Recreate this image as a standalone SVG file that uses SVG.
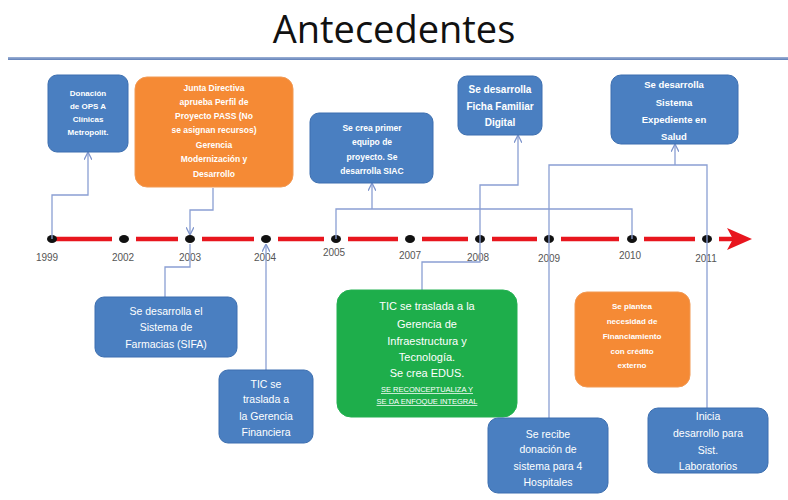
<svg xmlns="http://www.w3.org/2000/svg" width="788" height="500" viewBox="0 0 788 500">
<defs>
<linearGradient id="rule" x1="0" y1="0" x2="0" y2="1">
<stop offset="0" stop-color="#9fb3d6"/><stop offset="1" stop-color="#5f7fb8"/>
</linearGradient>
<marker id="ah" viewBox="0 0 8 8" refX="7" refY="4" markerWidth="6" markerHeight="6" orient="auto-start-reverse">
<path d="M0,0 L8,4 L0,8" fill="none" stroke="#7f95cc" stroke-width="1.3"/>
</marker>
</defs>
<style>
.t{font-family:"Liberation Sans",Arial,sans-serif;fill:#fff;text-anchor:middle}
.b{font-weight:bold}
.blue{fill:#4a7fc1;stroke:#3d6fb0;stroke-width:1}
.orange{fill:#f58a35;stroke:#f29a55;stroke-width:1}
.green{fill:#1eae4b;stroke:#22b050;stroke-width:1}
.c{fill:none;stroke:#8a9fd3;stroke-width:1.3}
.yr{font-family:"Liberation Sans",Arial,sans-serif;font-size:10px;fill:#555;text-anchor:middle}
.dot{fill:#111}
.red{stroke:#e8161e;stroke-width:4.5;fill:none}
</style>
<rect width="788" height="500" fill="#fff"/>
<text x="394" y="43" font-family="'Open Sans','Noto Sans',sans-serif" font-size="38" fill="#111" text-anchor="middle">Antecedentes</text>
<rect x="8" y="57" width="780" height="3" fill="url(#rule)"/>

<g id="timeline">
<path class="red" d="M52,239 H112 M136,239 H178 M202,239 H254 M278,239 H324 M348,239 H398 M422,239 H468 M492,239 H537 M561,239 H619 M644,239 H695 M719,239 H738"/>
<path d="M727,228 L752,239 L727,250 L733,239 Z" fill="#e8161e"/>
<ellipse class="dot" cx="52" cy="239" rx="5" ry="4"/>
<ellipse class="dot" cx="124" cy="239" rx="5" ry="4"/>
<ellipse class="dot" cx="190" cy="239" rx="5" ry="4"/>
<ellipse class="dot" cx="266" cy="239" rx="5" ry="4"/>
<ellipse class="dot" cx="336" cy="239" rx="5" ry="4"/>
<ellipse class="dot" cx="410" cy="239" rx="5" ry="4"/>
<ellipse class="dot" cx="480" cy="239" rx="5" ry="4"/>
<ellipse class="dot" cx="549" cy="239" rx="5" ry="4"/>
<ellipse class="dot" cx="632" cy="239" rx="5" ry="4"/>
<ellipse class="dot" cx="707" cy="239" rx="5" ry="4"/>
<text class="yr" x="47" y="261">1999</text>
<text class="yr" x="123" y="261">2002</text>
<text class="yr" x="190" y="261">2003</text>
<text class="yr" x="265" y="261">2004</text>
<text class="yr" x="334" y="256">2005</text>
<text class="yr" x="410" y="259">2007</text>
<text class="yr" x="478" y="261">2008</text>
<text class="yr" x="549" y="262">2009</text>
<text class="yr" x="630" y="259">2010</text>
<text class="yr" x="706" y="262">2011</text>
</g>

<g id="connectors">
<path class="c" d="M52,239 V195 H88 V153" marker-end="url(#ah)"/>
<path class="c" d="M213,188 V210 H190 V234" marker-end="url(#ah)"/>
<path class="c" d="M190,244 V267 H165 V297"/>
<path class="c" d="M266,370 V245" marker-end="url(#ah)"/>
<path class="c" d="M336,239 V209 H632 V239 M372,209 V184" marker-end="url(#ah)"/>
<path class="c" d="M480,239 V185 H518 V136" marker-end="url(#ah)"/>
<path class="c" d="M480,239 V262 H422 V290"/>
<path class="c" d="M549,418 V165 H707 V408 M675,165 V145" marker-end="url(#ah)"/>
</g>

<g id="n1">
<rect class="blue" x="48" y="75" width="80" height="77" rx="9"/>
<text class="t b" font-size="8"><tspan x="88" y="96">Donación</tspan><tspan x="88" y="109">de OPS A</tspan><tspan x="88" y="122">Clínicas</tspan><tspan x="88" y="135">Metropolit.</tspan></text>
</g>
<g id="n2">
<rect class="orange" x="135" y="77" width="158" height="110" rx="12"/>
<text class="t b" font-size="8.5"><tspan x="214" y="91">Junta Directiva</tspan><tspan x="214" y="105">aprueba Perfil de</tspan><tspan x="214" y="119">Proyecto PASS  (No</tspan><tspan x="214" y="133">se asignan recursos)</tspan><tspan x="214" y="148">Gerencia</tspan><tspan x="214" y="162">Modernización y</tspan><tspan x="214" y="177">Desarrollo</tspan></text>
</g>
<g id="n3">
<rect class="blue" x="310" y="113" width="123" height="70" rx="9"/>
<text class="t b" font-size="8.5"><tspan x="372" y="131">Se crea primer</tspan><tspan x="372" y="145">equipo de</tspan><tspan x="372" y="160">proyecto. Se</tspan><tspan x="372" y="174">desarrolla SIAC</tspan></text>
</g>
<g id="n4">
<rect class="blue" x="458" y="76" width="84" height="59" rx="9"/>
<text class="t b" font-size="10"><tspan x="500" y="93">Se desarrolla</tspan><tspan x="500" y="110">Ficha Familiar</tspan><tspan x="500" y="126">Digital</tspan></text>
</g>
<g id="n5">
<rect class="blue" x="611" y="75" width="127" height="69" rx="10"/>
<text class="t b" font-size="9.5"><tspan x="674" y="88">Se desarrolla</tspan><tspan x="674" y="106">Sistema</tspan><tspan x="674" y="123">Expediente en</tspan><tspan x="674" y="140">Salud</tspan></text>
</g>
<g id="n6">
<rect class="blue" x="95" y="297" width="142" height="60" rx="9"/>
<text class="t" font-size="10.5"><tspan x="166" y="315">Se desarrolla el</tspan><tspan x="166" y="331">Sistema de</tspan><tspan x="166" y="348">Farmacias (SIFA)</tspan></text>
</g>
<g id="n7">
<rect class="blue" x="219" y="370" width="94" height="73" rx="9"/>
<text class="t" font-size="10.5"><tspan x="266" y="388">TIC se</tspan><tspan x="266" y="403">traslada a</tspan><tspan x="266" y="420">la Gerencia</tspan><tspan x="266" y="436">Financiera</tspan></text>
</g>
<g id="n8">
<rect class="green" x="337" y="290" width="180" height="127" rx="14"/>
<text class="t" font-size="11"><tspan x="427" y="310">TIC se traslada  a la</tspan><tspan x="427" y="328">Gerencia  de</tspan><tspan x="427" y="345">Infraestructura y</tspan><tspan x="427" y="361">Tecnología.</tspan><tspan x="427" y="377">Se crea  EDUS.</tspan></text>
<text class="t" font-size="7.5" text-decoration="underline"><tspan x="427" y="392">SE RECONCEPTUALIZA Y</tspan><tspan x="427" y="404">SE DA ENFOQUE INTEGRAL</tspan></text>
</g>
<g id="n9">
<rect class="orange" x="575" y="292" width="115" height="95" rx="12"/>
<text class="t b" font-size="8"><tspan x="632" y="309">Se plantea</tspan><tspan x="632" y="324">necesidad de</tspan><tspan x="632" y="339">Financiamiento</tspan><tspan x="632" y="354">con crédito</tspan><tspan x="632" y="368">externo</tspan></text>
</g>
<g id="n10">
<rect class="blue" x="488" y="418" width="120" height="75" rx="10"/>
<text class="t" font-size="10.5"><tspan x="548" y="438">Se recibe</tspan><tspan x="548" y="453">donación de</tspan><tspan x="548" y="470">sistema para 4</tspan><tspan x="548" y="486">Hospitales</tspan></text>
</g>
<g id="n11">
<rect class="blue" x="648" y="408" width="120" height="65" rx="10"/>
<text class="t" font-size="10.5"><tspan x="708" y="420">Inicia</tspan><tspan x="708" y="437">desarrollo para</tspan><tspan x="708" y="454">Sist.</tspan><tspan x="708" y="470">Laboratorios</tspan></text>
</g>
</svg>
